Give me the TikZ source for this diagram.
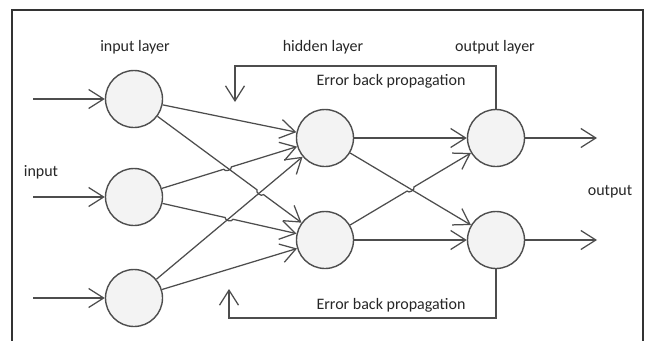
\documentclass[tikz,border=0pt]{standalone}
\usepackage{fontspec}
\setmainfont{Carlito}
\usetikzlibrary{arrows.meta,calc}
\definecolor{linec}{HTML}{4D4D4D}
\definecolor{nfill}{HTML}{F3F3F3}
\definecolor{textc}{HTML}{262626}
\definecolor{framec}{HTML}{333333}
\begin{document}
\begin{tikzpicture}[x=1pt,y=-1pt,
  neuron/.style={circle,draw=linec,fill=nfill,line width=1.4pt,minimum size=57pt,inner sep=0pt},
  conn/.style={draw=linec,line width=1.25pt,-{Straight Barb[length=15pt,width=19pt,line width=1.25pt]}},
  lbl/.style={font=\fontsize{16}{19}\selectfont,text=textc,inner sep=0pt}]
\useasboundingbox (0,0) rectangle (645,340);
\draw[framec,line width=1.5pt] (12,341) -- (12,10) -- (643,10) -- (643,341);

% neurons
\node[neuron] (i1) at (134,99) {};
\node[neuron] (i2) at (134,197) {};
\node[neuron] (i3) at (134,298) {};
\node[neuron] (h1) at (325,138) {};
\node[neuron] (h2) at (325,240) {};
\node[neuron] (o1) at (496,138) {};
\node[neuron] (o2) at (496,240) {};

% labels
\node[lbl] (lin) at (135,47) {input layer};
\node[lbl] (lhid) at (323,47) {hidden layer};
\node[lbl] (lout) at (495,47) {output layer};
\node[lbl] (linput) at (41,172) {input};
\node[lbl] (loutput) at (610,192) {output};
\node[lbl] (err1) at (391,81) {Error back propagation};
\node[lbl] (err2) at (391,305) {Error back propagation};

% input and output arrows
\coordinate (in1) at (33,99);
\coordinate (in2) at (33,197);
\coordinate (in3) at (33,298);
\coordinate (out1) at (597,138);
\coordinate (out2) at (597,240);
\draw[conn] (in1) -- (i1);
\draw[conn] (in2) -- (i2);
\draw[conn] (in3) -- (i3);
\draw[conn] (o1) -- (out1);
\draw[conn] (o2) -- (out2);

% crossings
\coordinate (X1) at (intersection of i1--h2 and i2--h1);
\coordinate (X2) at (intersection of i1--h2 and i3--h1);
\coordinate (X3) at (intersection of i2--h2 and i3--h1);
\coordinate (X4) at (intersection of h1--o2 and h2--o1);

% input -> hidden
\draw[conn] (i1) -- (h1);
\draw[conn] (i1) -- ($(X2)!4pt!(i1)$) to[bend right=90] ($(X2)!4pt!(h2)$) -- (h2);
\draw[conn] (i2) -- ($(X1)!4pt!(i2)$) to[bend right=90] ($(X1)!4pt!(h1)$) -- (h1);
\draw[conn] (i2) -- ($(X3)!4pt!(i2)$) to[bend right=90] ($(X3)!4pt!(h2)$) -- (h2);
\draw[conn] (i3) -- (h1);
\draw[conn] (i3) -- (h2);

% hidden -> output
\draw[conn] (h1) -- (o1);
\draw[conn] (h1) -- (o2);
\draw[conn] (h2) -- ($(X4)!4pt!(h2)$) to[bend right=90] ($(X4)!4pt!(o1)$) -- (o1);
\draw[conn] (h2) -- (o2);

% error back propagation
\coordinate (t1) at (496,66);
\coordinate (t2) at (235,66);
\coordinate (t3) at (235,102);
\draw[conn] (o1.north) -- (t1) -- (t2) -- (t3);
\coordinate (b1) at (496,318);
\coordinate (b2) at (229,318);
\coordinate (b3) at (229,289);
\draw[conn] (o2.south) -- (b1) -- (b2) -- (b3);
\end{tikzpicture}
\end{document}
